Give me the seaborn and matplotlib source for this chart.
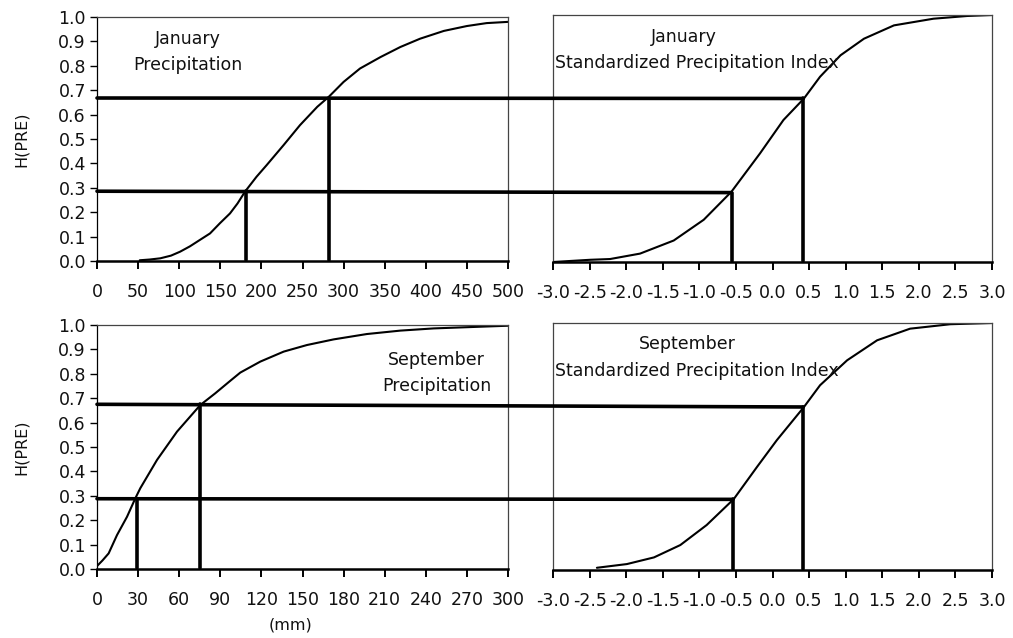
import numpy as np
import pandas as pd
import seaborn as sns
import matplotlib
matplotlib.use("Agg")
import matplotlib.pyplot as plt
from matplotlib.patches import ConnectionPatch

# ---------------- data ----------------
jan_pre_x = [52, 64, 77, 90, 101, 113, 125, 137.5, 149.6, 161.8, 171, 180, 194, 206.4, 227, 247, 268, 282, 300, 320, 345, 369, 393, 422, 450, 474, 500]
jan_pre_h = [0.003, 0.006, 0.011, 0.022, 0.038, 0.06, 0.086, 0.113, 0.155, 0.195, 0.236, 0.284, 0.345, 0.393, 0.475, 0.557, 0.632, 0.673, 0.734, 0.789, 0.836, 0.877, 0.911, 0.943, 0.963, 0.975, 0.98]

jan_spi_x = [-3.0, -2.49, -2.22, -1.81, -1.35, -0.94, -0.56, -0.17, 0.15, 0.43, 0.65, 0.93, 1.25, 1.66, 2.2, 2.66, 3.0]
jan_spi_h = [0.0, 0.009, 0.012, 0.034, 0.087, 0.171, 0.285, 0.44, 0.575, 0.662, 0.75, 0.837, 0.904, 0.958, 0.985, 0.996, 1.0]

sep_pre_x = [0, 4, 8.5, 14.6, 21.9, 28, 31.6, 43.8, 58.4, 75.4, 86.3, 97, 104.6, 119.2, 136.3, 153.3, 172.7, 197, 221.4, 245.7, 279.8, 300]
sep_pre_h = [0.012, 0.035, 0.064, 0.139, 0.214, 0.29, 0.331, 0.447, 0.563, 0.672, 0.72, 0.77, 0.805, 0.85, 0.891, 0.918, 0.941, 0.963, 0.977, 0.986, 0.993, 0.997]

sep_spi_x = [-2.4, -1.99, -1.62, -1.26, -0.9, -0.53, -0.21, 0.06, 0.43, 0.65, 1.02, 1.43, 1.88, 2.43, 3.0]
sep_spi_h = [0.009, 0.024, 0.051, 0.101, 0.182, 0.287, 0.418, 0.526, 0.66, 0.748, 0.849, 0.93, 0.977, 0.995, 1.0]

# reading lines: probability levels and matching values
jan_p_left = [0.286, 0.668]
jan_p_right = [0.281, 0.662]
jan_pre_read = [181, 282]
jan_spi_read = [-0.56, 0.42]

sep_p_left = [0.288, 0.675]
sep_p_right = [0.286, 0.660]
sep_pre_read = [29, 75.5]
sep_spi_read = [-0.54, 0.42]

jan_pre_ticks = [0, 50, 100, 150, 200, 250, 300, 350, 400, 450, 500]
sep_pre_ticks = [0, 30, 60, 90, 120, 150, 180, 210, 240, 270, 300]
spi_ticks = [-3.0, -2.5, -2.0, -1.5, -1.0, -0.5, 0.0, 0.5, 1.0, 1.5, 2.0, 2.5, 3.0]
h_ticks = [0.0, 0.1, 0.2, 0.3, 0.4, 0.5, 0.6, 0.7, 0.8, 0.9, 1.0]

# ---------------- style ----------------
sns.set_theme(style="white")
plt.rcParams["font.family"] = ["DejaVu Sans"]
plt.rcParams["font.size"] = 12.5

W, H = 1013, 638
fig = plt.figure(figsize=(W / 100, H / 100), dpi=100)

def fx(px):
    return px / W

def fy(py):
    return 1 - py / H

ax_jp = fig.add_axes([fx(97), fy(261), fx(508 - 97), (261 - 17) / H])
ax_js = fig.add_axes([fx(553), fy(262), fx(992 - 553), (262 - 15) / H])
ax_sp = fig.add_axes([fx(97), fy(569), fx(508 - 97), (569 - 325) / H])
ax_ss = fig.add_axes([fx(553), fy(570), fx(992 - 553), (570 - 323) / H])

TXT = "#111111"

def style_axes(ax, xticks, xlim, left_labels):
    ax.set_xlim(*xlim)
    ax.set_ylim(0, 1.0)
    ax.set_xticks(xticks)
    ax.set_xticklabels([(f"{t:.1f}" if isinstance(t, float) else str(t)) for t in xticks],
                       fontsize=12.5, color=TXT)
    for s in ["top", "right", "left"]:
        ax.spines[s].set_color("#444444")
        ax.spines[s].set_linewidth(0.9)
    ax.spines["bottom"].set_color("black")
    ax.spines["bottom"].set_linewidth(1.8)
    ax.tick_params(axis="x", direction="out", length=6, width=1.4, color="black",
                   bottom=True, pad=10)
    if left_labels:
        ax.set_yticks(h_ticks)
        ax.set_yticklabels([f"{t:.1f}" for t in h_ticks], fontsize=12.5, color=TXT)
        ax.tick_params(axis="y", direction="out", length=5, width=1.0, color="black",
                       left=True, pad=3)
        ax.spines["left"].set_color("black")
    else:
        ax.set_yticks([])
    ax.set_xlabel("")
    ax.set_ylabel("")
    ax.set_facecolor("white")

LW_CURVE = 1.5
LW_READ = 2.6

# curves
sns.lineplot(data=pd.DataFrame({"x": jan_pre_x, "h": jan_pre_h}), x="x", y="h",
             ax=ax_jp, color="black", lw=LW_CURVE, sort=False)
sns.lineplot(data=pd.DataFrame({"x": jan_spi_x, "h": jan_spi_h}), x="x", y="h",
             ax=ax_js, color="black", lw=LW_CURVE, sort=False)
sns.lineplot(data=pd.DataFrame({"x": sep_pre_x, "h": sep_pre_h}), x="x", y="h",
             ax=ax_sp, color="black", lw=LW_CURVE, sort=False)
sns.lineplot(data=pd.DataFrame({"x": sep_spi_x, "h": sep_spi_h}), x="x", y="h",
             ax=ax_ss, color="black", lw=LW_CURVE, sort=False)

style_axes(ax_jp, jan_pre_ticks, (0, 500), True)
style_axes(ax_js, spi_ticks, (-3.0, 3.0), False)
style_axes(ax_sp, sep_pre_ticks, (0, 300), True)
style_axes(ax_ss, spi_ticks, (-3.0, 3.0), False)

for ax in (ax_jp, ax_sp):
    ax.set_ylabel("H(PRE)", fontsize=11.5, color=TXT)
    ax.yaxis.set_label_coords(-0.166, 0.5)
ax_sp.set_xlabel("(mm)", fontsize=11.5, color=TXT)
ax_sp.xaxis.set_label_coords(0.47, -0.2)

# reading lines
def reading(ax_l, ax_r, pl, pr, xl, xr):
    for p_l, p_r, x_l, x_r in zip(pl, pr, xl, xr):
        con = ConnectionPatch(xyA=(ax_l.get_xlim()[0], p_l), coordsA=ax_l.transData,
                              xyB=(x_r, p_r), coordsB=ax_r.transData,
                              color="black", lw=LW_READ, zorder=5)
        fig.add_artist(con)
        ax_l.plot([x_l, x_l], [p_l, 0.005], color="black", lw=LW_READ, clip_on=False)
        ax_r.plot([x_r, x_r], [p_r, 0.005], color="black", lw=LW_READ, clip_on=False)

reading(ax_jp, ax_js, jan_p_left, jan_p_right, jan_pre_read, jan_spi_read)
reading(ax_sp, ax_ss, sep_p_left, sep_p_right, sep_pre_read, sep_spi_read)

# annotations
ax_jp.text(111, 0.91, "January", ha="center", va="center", fontsize=12.5, color=TXT)
ax_jp.text(111, 0.805, "Precipitation", ha="center", va="center", fontsize=12.5, color=TXT)
ax_js.text(-1.21, 0.91, "January", ha="center", va="center", fontsize=12.5, color=TXT)
ax_js.text(-2.97, 0.805, "Standardized Precipitation Index", ha="left", va="center",
           fontsize=12.5, color=TXT)
ax_sp.text(248, 0.857, "September", ha="center", va="center", fontsize=12.5, color=TXT)
ax_sp.text(248, 0.752, "Precipitation", ha="center", va="center", fontsize=12.5, color=TXT)
ax_ss.text(-1.17, 0.916, "September", ha="center", va="center", fontsize=12.5, color=TXT)
ax_ss.text(-2.97, 0.806, "Standardized Precipitation Index", ha="left", va="center",
           fontsize=12.5, color=TXT)

fig.savefig("out.png", dpi=100, facecolor="white")
